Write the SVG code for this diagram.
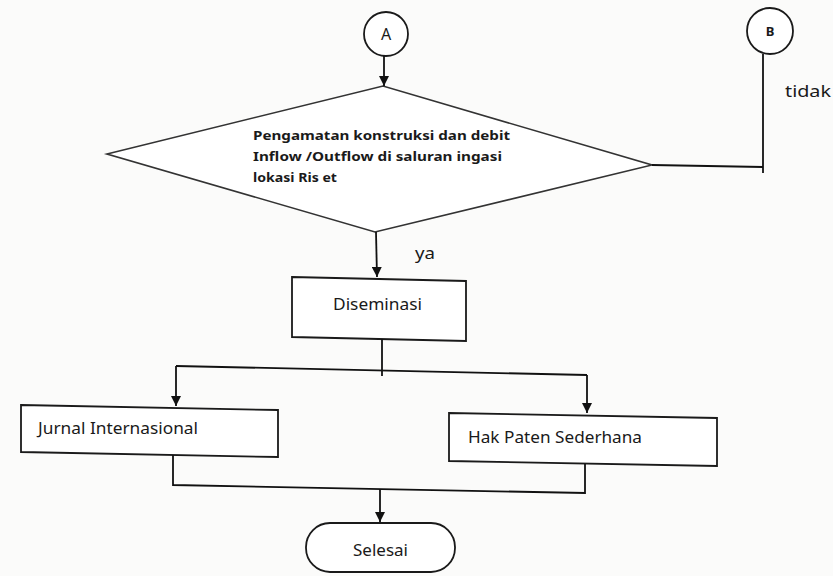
<svg xmlns="http://www.w3.org/2000/svg" width="833" height="576" viewBox="0 0 833 576">
  <style>
    .shape { fill: #ffffff; stroke: #1a1a1a; stroke-width: 1.8; }
    .dia { fill: #ffffff; stroke: #333333; stroke-width: 1.6; }
    .conn { fill: none; stroke: #111111; stroke-width: 1.8; }
    .t { font-family: "Noto Sans", "Liberation Sans", sans-serif; font-size: 16px; fill: #1a1a1a; }
    .tb { font-family: "Noto Sans", "Liberation Sans", sans-serif; font-size: 13px; font-weight: bold; fill: #1a1a1a; }
  </style>
  <defs>
    <marker id="arr" viewBox="0 0 10 10" refX="10" refY="5" markerWidth="10" markerHeight="10" markerUnits="userSpaceOnUse" orient="auto">
      <path d="M0,0 L10,5 L0,10 Z" fill="#111111"/>
    </marker>
  </defs>
  <rect x="0" y="0" width="833" height="576" fill="#fbfbfa"/>

  <g id="connA">
    <circle class="shape" cx="386" cy="34" r="22"/>
    <text class="t" x="386" y="40" text-anchor="middle" font-size="15">A</text>
  </g>
  <g id="connB">
    <circle class="shape" cx="770" cy="31" r="23"/>
    <text class="tb" x="770" y="36" text-anchor="middle">B</text>
  </g>
  <g id="decision">
    <polygon class="dia" points="107,154 383,86 652,165 375,232"/>
    <text class="tb" x="253" y="140" textLength="257" lengthAdjust="spacingAndGlyphs">Pengamatan konstruksi dan debit</text>
    <text class="tb" x="253" y="161" textLength="249" lengthAdjust="spacingAndGlyphs">Inflow /Outflow di saluran ingasi</text>
    <text class="tb" x="253" y="182" textLength="84" lengthAdjust="spacingAndGlyphs">lokasi Ris et</text>
  </g>
  <g id="diseminasi">
    <polygon class="shape" points="292,277 466,281 466,341 292,337"/>
    <text class="t" x="333" y="310" textLength="89" lengthAdjust="spacingAndGlyphs">Diseminasi</text>
  </g>
  <g id="jurnal">
    <polygon class="shape" points="21,405 278,410 278,457 21,452"/>
    <text class="t" x="38" y="434" textLength="160" lengthAdjust="spacingAndGlyphs">Jurnal Internasional</text>
  </g>
  <g id="paten">
    <polygon class="shape" points="449,413 717,418 717,466 449,461"/>
    <text class="t" x="468" y="443" textLength="174" lengthAdjust="spacingAndGlyphs">Hak Paten Sederhana</text>
  </g>
  <g id="selesai">
    <rect class="shape" x="306" y="523" width="149" height="49" rx="24" ry="24"/>
    <text class="t" x="353" y="556" textLength="55" lengthAdjust="spacingAndGlyphs">Selesai</text>
  </g>

  <g id="connectors">
    <path class="conn" d="M384,56 L384,86" marker-end="url(#arr)"/>
    <path class="conn" d="M652,165 L763,167"/>
    <path class="conn" d="M763,54 L763,173"/>
    <path class="conn" d="M376,232 L377,277" marker-end="url(#arr)"/>
    <path class="conn" d="M382,339 L382,376"/>
    <path class="conn" d="M176,366 L587,375"/>
    <path class="conn" d="M176,366 L176,406" marker-end="url(#arr)"/>
    <path class="conn" d="M587,375 L587,413" marker-end="url(#arr)"/>
    <path class="conn" d="M173,455 L173,485 L585,493 L585,464"/>
    <path class="conn" d="M380,489 L380,522" marker-end="url(#arr)"/>
    <text class="t" x="415" y="259" textLength="20" lengthAdjust="spacingAndGlyphs" font-size="15">ya</text>
    <text class="t" x="785" y="97" textLength="46" lengthAdjust="spacingAndGlyphs" font-size="15">tidak</text>
  </g>
</svg>
